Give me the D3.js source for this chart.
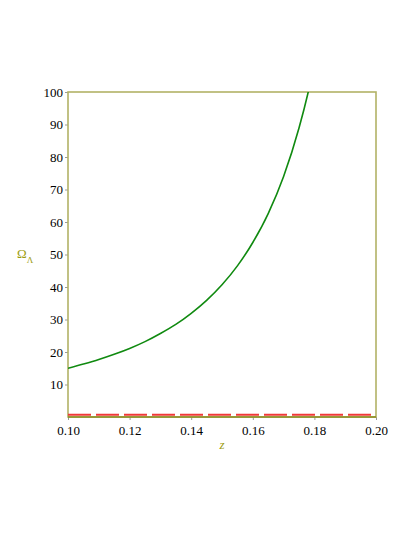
<!DOCTYPE html>
<html>
<head>
<meta charset="utf-8">
<script src="https://cdn.jsdelivr.net/npm/d3@7"></script>
<style>
  body { margin: 0; background: #fff; }
</style>
</head>
<body>
<svg id="chart" width="415" height="537"></svg>
<script>
(function () {
  "use strict";

  // green curve
  var zValues = [0.100, 0.105, 0.110, 0.115, 0.120, 0.125, 0.130, 0.135, 0.140,
                 0.145, 0.150, 0.155, 0.160, 0.165, 0.170, 0.175, 0.178, 0.180];
  var omegaValues = [15.0, 16.3, 17.7, 19.3, 21.1, 23.2, 25.7, 28.5, 31.9,
                     35.9, 40.7, 46.5, 53.7, 62.6, 74.0, 88.9, 100.0, 108.6];
  // red dashed level
  var levelZ = [0.10, 0.20];
  var levelValue = [0.7, 0.7];

  var xTicks = [0.10, 0.12, 0.14, 0.16, 0.18, 0.20];
  var yTicks = [10, 20, 30, 40, 50, 60, 70, 80, 90, 100];

  var left = 68, right = 376, top = 92, bottom = 417;
  var axisColor = "#b2b266";
  var labelColor = "#9c9c10";
  var serif = "'Liberation Serif', 'Times New Roman', serif";

  var svg = d3.select("#chart");
  var x = d3.scaleLinear().domain([0.10, 0.20]).range([left, right]);
  var y = d3.scaleLinear().domain([0, 100]).range([bottom, top]);

  svg.append("defs").append("clipPath").attr("id", "plot-clip")
    .append("rect")
    .attr("x", left).attr("y", top)
    .attr("width", right - left).attr("height", bottom - top);

  var xAxis = svg.append("g")
    .attr("transform", "translate(0," + bottom + ")")
    .call(d3.axisBottom(x).tickValues(xTicks).tickFormat(d3.format(".2f")).tickSize(3).tickPadding(6));
  var yAxis = svg.append("g")
    .attr("transform", "translate(" + left + ",0)")
    .call(d3.axisLeft(y).tickValues(yTicks).tickSize(3).tickPadding(2));

  [xAxis, yAxis].forEach(function (g) {
    g.attr("font-family", serif).attr("font-size", 13);
    g.select(".domain").remove();
    g.selectAll(".tick line").attr("stroke", "#999");
    g.selectAll(".tick text").attr("fill", "#000");
  });

  // box
  svg.append("rect")
    .attr("x", left).attr("y", top)
    .attr("width", right - left).attr("height", bottom - top)
    .attr("fill", "none")
    .attr("stroke", axisColor)
    .attr("stroke-width", 1.6);
  svg.append("line")
    .attr("x1", left).attr("x2", right)
    .attr("y1", bottom).attr("y2", bottom)
    .attr("stroke", "#8a8a20")
    .attr("stroke-width", 1.6);

  var plot = svg.append("g").attr("clip-path", "url(#plot-clip)");

  var level = d3.line()
    .x(function (d, i) { return x(levelZ[i]); })
    .y(function (d) { return y(d); });
  plot.append("path")
    .attr("d", level(levelValue))
    .attr("fill", "none")
    .attr("stroke", "#f03838")
    .attr("stroke-width", 2.2)
    .attr("stroke-dasharray", "23,5");

  var curve = d3.line()
    .x(function (d, i) { return x(zValues[i]); })
    .y(function (d) { return y(d); })
    .curve(d3.curveMonotoneX);
  plot.append("path")
    .attr("d", curve(omegaValues))
    .attr("fill", "none")
    .attr("stroke", "#108a10")
    .attr("stroke-width", 1.6);

  // axis labels
  var yl = svg.append("text")
    .attr("x", 17).attr("y", 258)
    .attr("fill", labelColor)
    .attr("font-family", serif)
    .attr("font-size", 13);
  yl.append("tspan").text("Ω");
  yl.append("tspan").attr("dy", 5).attr("font-size", 9).text("Λ");

  svg.append("text")
    .attr("x", 222).attr("y", 449)
    .attr("text-anchor", "middle")
    .attr("fill", labelColor)
    .attr("font-family", serif)
    .attr("font-size", 13)
    .attr("font-style", "italic")
    .text("z");
}());
</script>
</body>
</html>
